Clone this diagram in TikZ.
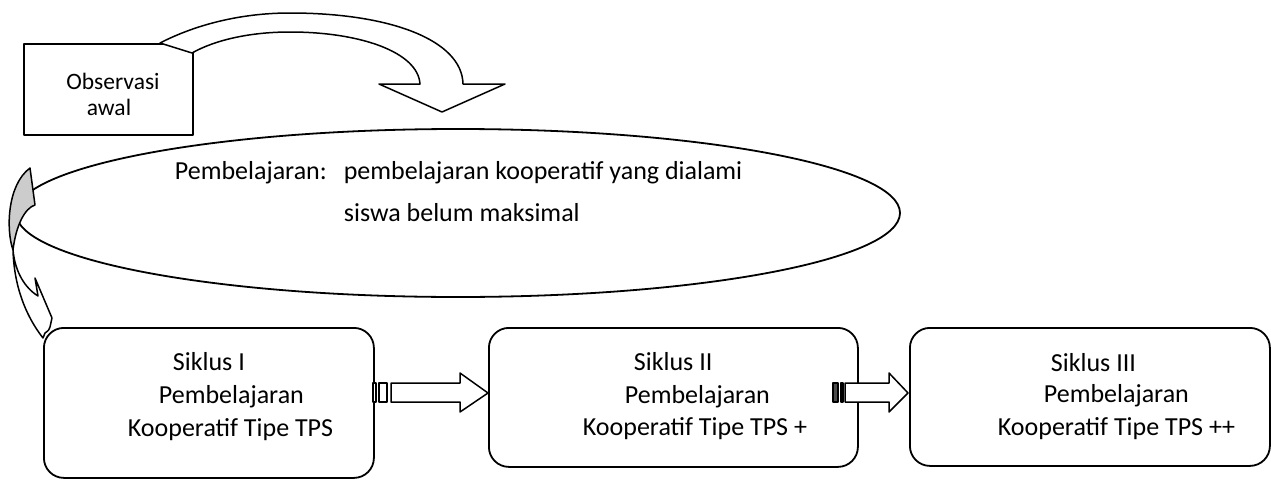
\documentclass[tikz,border=0pt]{standalone}
\usepackage{fontspec}
\setmainfont{Carlito}
\usetikzlibrary{shapes.geometric}
\begin{document}
\begin{tikzpicture}[x=1pt,y=-1pt,line width=1.8pt,line join=round,
  txt/.style={anchor=base west,inner sep=0pt,font=\fontsize{26}{31}\selectfont},
  otxt/.style={anchor=base,inner sep=0pt,font=\fontsize{23.5}{27}\selectfont},
  cycbox/.style={draw,rounded corners=20pt,anchor=north west,inner sep=0pt},
  blockarrow/.style={draw,fill=white,line width=1.5pt}]
\useasboundingbox (0,0) rectangle (1271,479);

% ellipse
\node[draw,ellipse,inner sep=0pt,minimum width=884pt,minimum height=168pt] (ell) at (458,213) {};

% observasi box
\node[draw,anchor=north west,inner sep=0pt,minimum width=169pt,minimum height=91pt] (obs) at (23,43) {};

% top curved arrow (filled, covers box corner)
\draw[blockarrow] (160,43) .. controls (195,25) and (240,13) .. (290,13)
  .. controls (390,13) and (462,40) .. (463,84) -- (505,84) -- (442,112) -- (379,84) -- (420,84)
  .. controls (418,52) and (360,32) .. (290,32)
  .. controls (250,32) and (215,40) .. (192,53) -- cycle;

% cycle boxes
\node[cycbox,minimum width=330pt,minimum height=150pt] (s1) at (43,327) {};
\node[cycbox,minimum width=369pt,minimum height=139pt] (s2) at (488,327) {};
\node[cycbox,minimum width=360pt,minimum height=138pt] (s3) at (909,327) {};

% left curved arrow (back face grey)
\filldraw[fill=gray!40,line width=1.5pt] (30,168) -- (35,205)
  .. controls (25,208) and (16,225) .. (13,250)
  .. controls (6,230) and (7,185) .. (30,168) -- cycle;
\draw[blockarrow] (13,250) .. controls (14,285) and (25,315) .. (43,338)
  -- (45,333) .. controls (48,331) and (50,329) .. (50,327) -- (52,318) -- (35,278) -- (38,296)
  .. controls (25,288) and (15,272) .. (13,250) -- cycle;

% striped arrow 1
\draw[blockarrow] (373,383) rectangle (376,402);
\draw[blockarrow] (379,383) rectangle (387,402);
\draw[blockarrow] (391,383) -- (460,383) -- (460,373) -- (488,393) -- (460,412) -- (460,402) -- (391,402) -- cycle;

% striped arrow 2
\draw[blockarrow,fill=black!70] (833,383) rectangle (838,402);
\draw[blockarrow] (841,383) rectangle (843,402);
\draw[blockarrow] (845,383) -- (889,383) -- (889,373) -- (908,393) -- (889,412) -- (889,402) -- (845,402) -- cycle;

% texts
\node[otxt] (o1) at (113,89) {Observasi};
\node[otxt] (o2) at (109,115) {awal};
\node[txt] (e1) at (174,179) {Pembelajaran:\hspace{17pt}pembelajaran kooperatif yang dialami};
\node[txt] (e2) at (343,221) {siswa belum maksimal};

\node[txt] (a1) at (172,370) {Siklus I};
\node[txt] (a2) at (158,403) {Pembelajaran};
\node[txt] (a3) at (127,436) {Kooperatif Tipe TPS};

\node[txt] (b1) at (633,370) {Siklus II};
\node[txt] (b2) at (624,403) {Pembelajaran};
\node[txt] (b3) at (582,435) {Kooperatif Tipe TPS +};

\node[txt] (c1) at (1050,371) {Siklus III};
\node[txt] (c2) at (1043,402) {Pembelajaran};
\node[txt] (c3) at (997,435) {Kooperatif Tipe TPS ++};
\end{tikzpicture}
\end{document}
